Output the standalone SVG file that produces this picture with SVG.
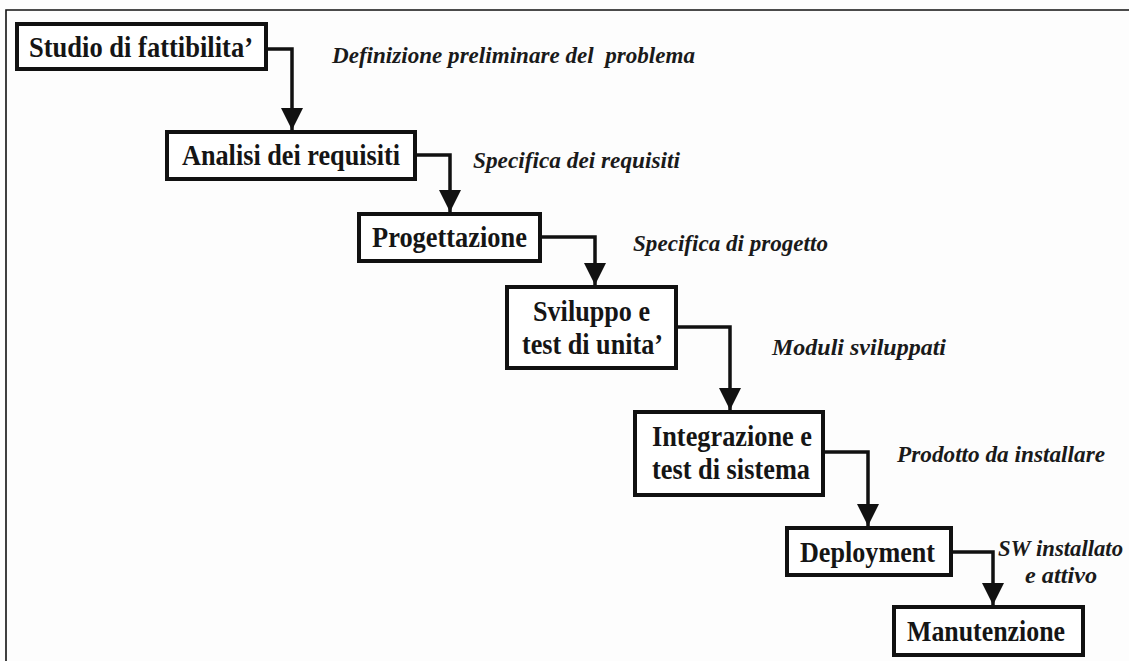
<svg xmlns="http://www.w3.org/2000/svg" width="1129" height="661" viewBox="0 0 1129 661">
<style>
.box{fill:#fff;stroke:#111;stroke-width:4}
.bt{font-family:"Liberation Serif","Times New Roman",serif;font-weight:bold;font-size:29px;fill:#151515;text-anchor:middle}
.lb{font-family:"Liberation Serif","Times New Roman",serif;font-weight:bold;font-style:italic;font-size:24px;fill:#1a1a1a}
.con{fill:none;stroke:#111;stroke-width:3.5;marker-end:url(#arr)}
</style>
<defs>
<marker id="arr" markerUnits="userSpaceOnUse" markerWidth="22" markerHeight="22" viewBox="0 0 22 22" refX="22" refY="11" orient="auto">
<path d="M0,0 L22,11 L0,22 Z" fill="#111"/>
</marker>
</defs>
<rect x="0" y="0" width="1129" height="661" fill="#fdfdfd"/>
<path d="M6,661 V10 H1129" fill="none" stroke="#111" stroke-width="1.6"/>
<g id="connectors">
<path class="con" d="M268,49 H292 V130"/>
<path class="con" d="M417,155 H450 V212"/>
<path class="con" d="M542,237 H595 V285"/>
<path class="con" d="M678,327 H730 V410"/>
<path class="con" d="M825,452 H868 V526"/>
<path class="con" d="M953,552 H993 V605"/>
</g>
<g id="n1"><rect class="box" x="17" y="24" width="249" height="45"/><text class="bt" x="141" y="57" textLength="224" lengthAdjust="spacingAndGlyphs">Studio di fattibilita’</text></g>
<g id="n2"><rect class="box" x="167" y="132" width="248" height="47"/><text class="bt" x="291" y="165" textLength="218" lengthAdjust="spacingAndGlyphs">Analisi dei requisiti</text></g>
<g id="n3"><rect class="box" x="359" y="214" width="181" height="47"/><text class="bt" x="449.5" y="247" textLength="155" lengthAdjust="spacingAndGlyphs">Progettazione</text></g>
<g id="n4"><rect class="box" x="507" y="287" width="169" height="81"/><text class="bt" x="591.5" y="321" textLength="117" lengthAdjust="spacingAndGlyphs">Sviluppo e</text><text class="bt" x="592.5" y="354" textLength="141" lengthAdjust="spacingAndGlyphs">test di unita’</text></g>
<g id="n5"><rect class="box" x="635" y="412" width="188" height="83"/><text class="bt" x="732" y="446" textLength="160" lengthAdjust="spacingAndGlyphs">Integrazione e</text><text class="bt" x="731" y="479" textLength="158" lengthAdjust="spacingAndGlyphs">test di sistema</text></g>
<g id="n6"><rect class="box" x="787" y="528" width="164" height="47"/><text class="bt" x="867.5" y="562" textLength="135" lengthAdjust="spacingAndGlyphs">Deployment</text></g>
<g id="n7"><rect class="box" x="894" y="607" width="189" height="48"/><text class="bt" x="986" y="641" textLength="158" lengthAdjust="spacingAndGlyphs">Manutenzione</text></g>
<g id="labels">
<text class="lb" x="332" y="63" textLength="363" lengthAdjust="spacingAndGlyphs" xml:space="preserve">Definizione preliminare del  problema</text>
<text class="lb" x="473" y="168" textLength="207" lengthAdjust="spacingAndGlyphs">Specifica dei requisiti</text>
<text class="lb" x="633" y="251" textLength="195" lengthAdjust="spacingAndGlyphs">Specifica di progetto</text>
<text class="lb" x="772" y="355" textLength="174" lengthAdjust="spacingAndGlyphs">Moduli sviluppati</text>
<text class="lb" x="897" y="462" textLength="208" lengthAdjust="spacingAndGlyphs">Prodotto da installare</text>
<text class="lb" x="998" y="556" textLength="125" lengthAdjust="spacingAndGlyphs">SW installato</text>
<text class="lb" x="1025" y="583" textLength="72" lengthAdjust="spacingAndGlyphs">e attivo</text>
</g>
</svg>
